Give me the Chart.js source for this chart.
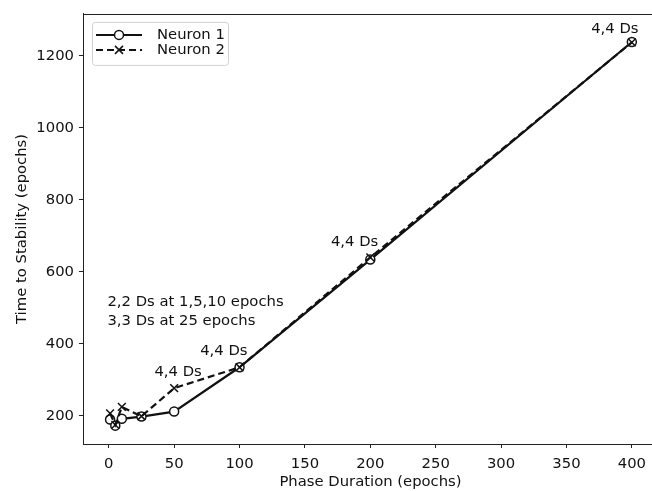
<!DOCTYPE html>
<html>
<head>
<meta charset="utf-8">
<script src="https://cdn.jsdelivr.net/npm/chart.js@4/dist/chart.umd.min.js"></script>
<style>
  html, body { margin: 0; padding: 0; background: #fff; overflow: hidden; }
  #wrap { width: 665px; height: 491px; }
</style>
</head>
<body>
<div id="wrap"><canvas id="stability-chart" width="665" height="491"></canvas></div>
<script>
// phase duration (epochs) vs time to stability (epochs)
var phaseDuration = [1, 5, 10, 25, 50, 100, 200, 400];
var neuron1 = [190, 173, 192, 198, 212, 335, 634, 1238];
var neuron2 = [207, 175, 225, 199, 277, 335, 640, 1237];
var seriesNames = ['Neuron 1', 'Neuron 2'];
var xTicks = [0, 50, 100, 150, 200, 250, 300, 350, 400];
var yTicks = [200, 400, 600, 800, 1000, 1200];

// "4,4 Ds" notes, placed in data units
var noteText = ['4,4 Ds', '4,4 Ds', '4,4 Ds', '4,4 Ds'];
var noteX = [53, 88, 188, 387];
var noteY = [321, 380, 683, 1275];
var sideNote = ['2,2 Ds at 1,5,10 epochs', '3,3 Ds at 25 epochs'];
var sideNoteX = -1;
var sideNoteY = [515, 462];

var FONT = 'DejaVu Sans';
var INK = '#111';
var FSIZE = 14.8;

function toPoints(xs, ys) {
  var pts = [];
  for (var i in xs) {
    pts.push({x: xs[i], y: ys[i]});
  }
  return pts;
}

function fixedTicks(values) {
  return function (scale) {
    scale.ticks = values.map(function (v) { return {value: v}; });
  };
}

var framePlugin = {
  id: 'frame',
  afterDraw(chart) {
    var ctx = chart.ctx;
    var a = chart.chartArea;
    var xs = chart.scales.x, ys = chart.scales.y;
    ctx.save();
    ctx.strokeStyle = '#222';
    ctx.lineWidth = 1;
    ctx.strokeRect(Math.round(a.left) + 0.5, Math.round(a.top) + 0.5,
      Math.round(a.right - a.left), Math.round(a.bottom - a.top));

    // notes
    ctx.fillStyle = INK;
    ctx.font = FSIZE + 'px "' + FONT + '"';
    ctx.textAlign = 'center';
    ctx.textBaseline = 'middle';
    for (var i in noteText) {
      ctx.fillText(noteText[i], xs.getPixelForValue(noteX[i]), ys.getPixelForValue(noteY[i]));
    }
    ctx.textAlign = 'left';
    for (var j in sideNote) {
      ctx.fillText(sideNote[j], xs.getPixelForValue(sideNoteX), ys.getPixelForValue(sideNoteY[j]));
    }

    // legend
    var bx = a.left + 9, by = a.top + 8, bw = 136, bh = 43;
    ctx.beginPath();
    ctx.roundRect(bx + 0.5, by + 0.5, bw, bh, 3);
    ctx.fillStyle = 'rgba(255,255,255,0.8)';
    ctx.fill();
    ctx.strokeStyle = '#d0d0d0';
    ctx.stroke();
    chart.data.datasets.forEach(function (ds, k) {
      var ly = by + 13 + k * 15;
      var x0 = bx + 4, x1 = bx + 50, xm = (x0 + x1) / 2;
      ctx.save();
      ctx.strokeStyle = INK;
      ctx.lineWidth = 2;
      ctx.setLineDash(ds.borderDash || []);
      ctx.beginPath();
      ctx.moveTo(x0, ly);
      ctx.lineTo(x1, ly);
      ctx.stroke();
      ctx.restore();
      ctx.save();
      ctx.strokeStyle = INK;
      ctx.lineWidth = 1.5;
      if (ds.pointStyle === 'circle') {
        ctx.beginPath();
        ctx.arc(xm, ly, 4.5, 0, Math.PI * 2);
        ctx.fillStyle = '#fff';
        ctx.fill();
        ctx.stroke();
      } else {
        ctx.beginPath();
        ctx.moveTo(xm - 4, ly - 4); ctx.lineTo(xm + 4, ly + 4);
        ctx.moveTo(xm - 4, ly + 4); ctx.lineTo(xm + 4, ly - 4);
        ctx.stroke();
      }
      ctx.restore();
      ctx.fillStyle = INK;
      ctx.textAlign = 'left';
      ctx.textBaseline = 'middle';
      ctx.fillText(ds.label, bx + 65, ly);
    });
    ctx.restore();
  }
};

new Chart(document.getElementById('stability-chart'), {
  type: 'line',
  data: {
    datasets: [{
      label: seriesNames[0],
      data: toPoints(phaseDuration, neuron1),
      borderColor: INK,
      borderWidth: 2.2,
      pointStyle: 'circle',
      pointRadius: 4.5,
      pointBorderWidth: 1.5,
      pointBackgroundColor: '#fff',
      pointBorderColor: INK,
      order: 1
    }, {
      label: seriesNames[1],
      data: toPoints(phaseDuration, neuron2),
      borderColor: INK,
      borderWidth: 2.2,
      borderDash: [7, 4],
      pointStyle: 'crossRot',
      pointRadius: 5.5,
      pointBorderWidth: 1.5,
      pointBorderColor: INK,
      order: 0
    }]
  },
  options: {
    responsive: false,
    animation: false,
    events: [],
    layout: { padding: { top: 12, right: 1.6, left: 0, bottom: 0 } },
    plugins: { legend: { display: false }, tooltip: { enabled: false } },
    elements: { line: { tension: 0 } },
    scales: {
      x: {
        type: 'linear',
        min: -19.7,
        max: 420,
        afterBuildTicks: fixedTicks(xTicks),
        afterFit(scale) { scale.height = 47; },
        border: { display: true, color: '#222', width: 1 },
        grid: { display: true, drawOnChartArea: false, drawTicks: true, tickLength: 4, tickColor: '#222' },
        ticks: { padding: 7, color: INK, font: { family: FONT, size: FSIZE } },
        title: { display: true, text: 'Phase Duration (epochs)', color: INK, padding: { top: 0, bottom: 0 }, font: { family: FONT, size: FSIZE } }
      },
      y: {
        type: 'linear',
        min: 122,
        max: 1316,
        afterBuildTicks: fixedTicks(yTicks),
        afterFit(scale) { scale.width = 83; },
        border: { display: true, color: '#222', width: 1 },
        grid: { display: true, drawOnChartArea: false, drawTicks: true, tickLength: 4, tickColor: '#222' },
        ticks: { padding: 5, color: INK, font: { family: FONT, size: FSIZE }, callback: function (v) { return String(v); } },
        title: { display: true, text: 'Time to Stability (epochs)', color: INK, padding: { top: 13, bottom: 0 }, font: { family: FONT, size: FSIZE } }
      }
    }
  },
  plugins: [framePlugin]
});
</script>
</body>
</html>
